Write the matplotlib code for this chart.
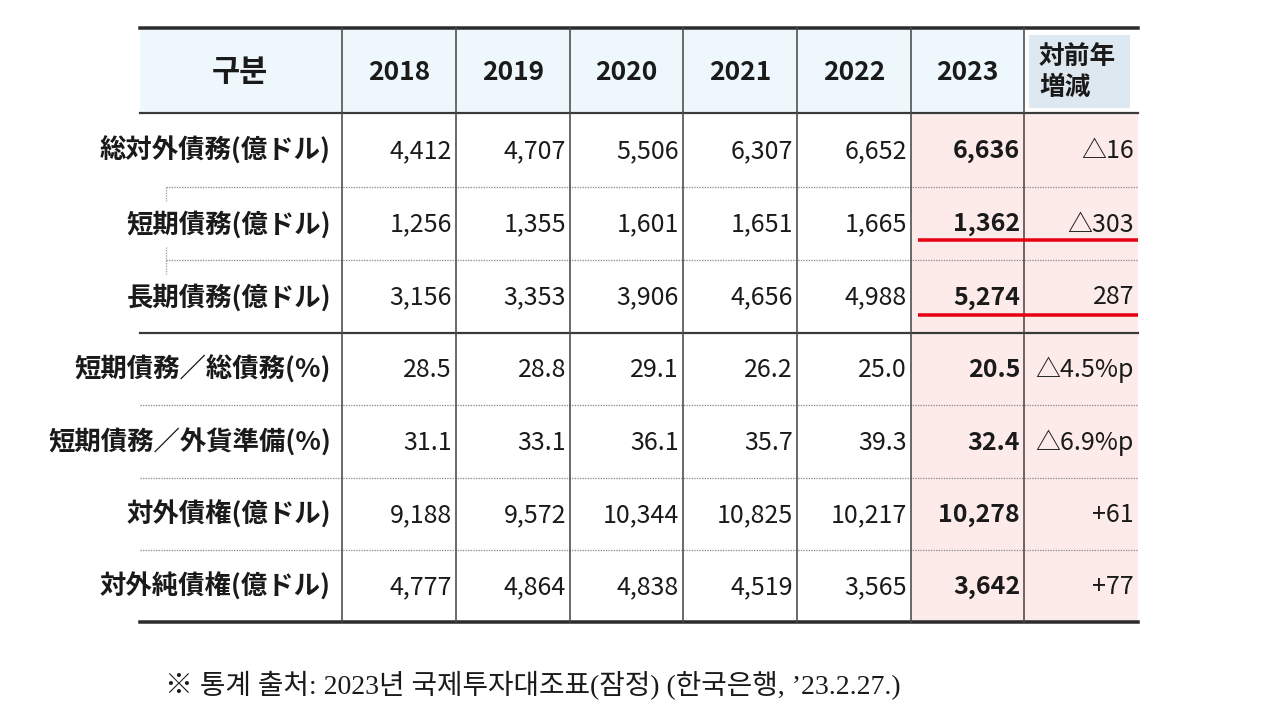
import matplotlib
matplotlib.use("Agg")
import matplotlib.pyplot as plt
from matplotlib.patches import Rectangle

# ---- data ----
header_first = "구분"
years = ["2018", "2019", "2020", "2021", "2022", "2023"]
change_header = "対前年\n増減"
row_labels = ["総対外債務(億ドル)", "短期債務(億ドル)", "長期債務(億ドル)",
              "短期債務／総債務(%)", "短期債務／外貨準備(%)",
              "対外債権(億ドル)", "対外純債権(億ドル)"]
total_debt = ["4,412", "4,707", "5,506", "6,307", "6,652", "6,636"]
short_debt = ["1,256", "1,355", "1,601", "1,651", "1,665", "1,362"]
long_debt = ["3,156", "3,353", "3,906", "4,656", "4,988", "5,274"]
short_ratio_total = ["28.5", "28.8", "29.1", "26.2", "25.0", "20.5"]
short_ratio_reserve = ["31.1", "33.1", "36.1", "35.7", "39.3", "32.4"]
ext_claims = ["9,188", "9,572", "10,344", "10,825", "10,217", "10,278"]
net_claims = ["4,777", "4,864", "4,838", "4,519", "3,565", "3,642"]
changes = ["△16", "△303", "287", "△4.5%p", "△6.9%p", "+61", "+77"]
footnote = "※ 통계 출처: 2023년 국제투자대조표(잠정) (한국은행, ’23.2.27.)"

rows = [total_debt, short_debt, long_debt, short_ratio_total,
        short_ratio_reserve, ext_claims, net_claims]

# ---- layout (pixels) ----
W, H = 1280, 720
x_left, x_right = 140, 1138
col_edges = [342, 456, 570, 683, 797, 911, 1024]
y_top, y_head = 28, 113
row_edges = [113, 187, 260, 333, 405, 478, 550, 622]

fig = plt.figure(figsize=(W / 100, H / 100), dpi=100)
ax = fig.add_axes([0, 0, 1, 1])
ax.set_xlim(0, W)
ax.set_ylim(H, 0)
ax.axis("off")

def px(p):
    return p * 0.72

# backgrounds
ax.add_patch(Rectangle((x_left, y_top), col_edges[-1] - x_left, y_head - y_top,
                       facecolor="#EEF8FC", edgecolor="none", zorder=0))
ax.add_patch(Rectangle((1029, 35), 101, 73, facecolor="#DDE8F1",
                       edgecolor="none", zorder=0))
ax.add_patch(Rectangle((col_edges[-2], y_head), x_right - col_edges[-2],
                       row_edges[-1] - y_head, facecolor="#FDEBEA",
                       edgecolor="none", zorder=0))

# horizontal lines
ax.plot([x_left, x_right], [y_top, y_top], color="#2b2b2b", lw=px(3.5), zorder=3)
ax.plot([x_left, x_right], [y_head, y_head], color="#3a3a3a", lw=px(2.2), zorder=3)
ax.plot([x_left, x_right], [row_edges[3], row_edges[3]], color="#3a3a3a", lw=px(2.2), zorder=3)
ax.plot([x_left, x_right], [row_edges[-1], row_edges[-1]], color="#2b2b2b", lw=px(3.5), zorder=3)
for i, y in enumerate(row_edges[1:-1]):
    if i == 2:
        continue
    xs = 166 if i < 2 else x_left
    ax.plot([xs, x_right], [y, y], color="#8a8a8a", lw=px(1.3),
            linestyle=(0, (1, 1)), zorder=2)
# small dotted ticks at left
for y0, y1 in [(187, 201), (247, 274)]:
    ax.plot([166, 166], [y0, y1], color="#9a9a9a", lw=px(1.3),
            linestyle=(0, (1, 1)), zorder=2)

# vertical lines
for x in col_edges:
    ax.plot([x, x], [y_top, row_edges[-1]], color="#4a4a4a", lw=px(1.6), zorder=3)

# red underlines
for y in [240, 315]:
    ax.plot([918, x_right], [y, y], color="#E60012", lw=px(3.5), zorder=4,
            solid_capstyle="butt")

kr = ["Noto Sans CJK KR", "DejaVu Sans"]
jp = ["Noto Sans CJK JP", "DejaVu Sans"]

# header
y_hc = (y_top + y_head) / 2 + 2
ax.text((x_left + col_edges[0]) / 2 - 1, y_hc, header_first, ha="center", va="center",
        fontsize=22, fontweight="bold", family=kr, color="#1a1a1a")
for j, yr in enumerate(years):
    xc = (col_edges[j] + col_edges[j + 1]) / 2
    ax.text(xc, y_hc, yr, ha="center", va="center", fontsize=19,
            fontweight="bold", family=kr, color="#1a1a1a")
ax.text(1039, 72, change_header, ha="left", va="center", fontsize=18.5,
        fontweight="bold", family=jp, color="#1a1a1a", linespacing=1.2)

# body
for i, (lab, vals) in enumerate(zip(row_labels, rows)):
    yc = (row_edges[i] + row_edges[i + 1]) / 2 + 1
    ax.text(331, yc, lab, ha="right", va="center", fontsize=19,
            fontweight="bold", family=jp, color="#1a1a1a")
    for j, v in enumerate(vals):
        xr = col_edges[j + 1] - 4
        bold = (j == len(vals) - 1)
        ax.text(xr, yc, v, ha="right", va="center", fontsize=18,
                fontweight="bold" if bold else "normal", family=kr,
                color="#1a1a1a")
    ax.text(x_right - 4, yc, changes[i], ha="right", va="center", fontsize=18,
            family=jp, color="#1a1a1a")

# footnote
ax.text(165, 686, footnote, ha="left", va="center", fontsize=20,
        family=["Liberation Serif", "Noto Sans CJK KR"], color="#1a1a1a")

fig.savefig("out.png", dpi=100)
